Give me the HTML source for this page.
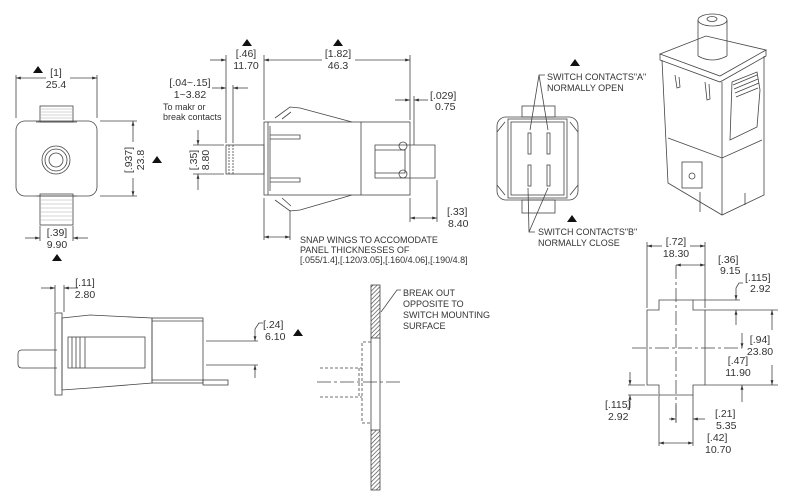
<!DOCTYPE html>
<html><head><meta charset="utf-8"><style>
html,body{margin:0;padding:0;background:#fff}
svg{display:block}
text{font-family:"Liberation Sans",sans-serif;font-size:10.5px;fill:#333}
.s{font-size:9px}
</style></head><body>
<svg width="800" height="497" viewBox="0 0 800 497" xmlns="http://www.w3.org/2000/svg">
<defs>
<marker id="a" viewBox="0 0 10 10" refX="10" refY="5" markerWidth="6" markerHeight="6" orient="auto-start-reverse"><path d="M0,2L10,5L0,8z" fill="#333"/></marker>
<pattern id="h" width="3" height="3" patternUnits="userSpaceOnUse" patternTransform="rotate(45)"><line x1="0" y1="0" x2="0" y2="3" stroke="#444" stroke-width="1.3"/></pattern>
</defs>
<g fill="none" stroke="#444" stroke-width="0.8">
<!-- front view -->
<rect x="16" y="121" width="81" height="75" rx="9"/>
<rect x="40" y="106" width="33" height="16"/><line x1="36" y1="122" x2="77" y2="122"/>
<path d="M40,109h33M40,112h33M40,115h33M40,118h33" stroke="#aaa" stroke-width="0.5"/>
<rect x="40" y="194" width="33" height="31"/><line x1="36" y1="196" x2="77" y2="196"/>
<path d="M40,200h33M40,204h33M40,208h33M40,212h33M40,216h33M40,220h33" stroke="#aaa" stroke-width="0.5"/>
<circle cx="56" cy="160" r="14"/><circle cx="56" cy="160" r="11"/><circle cx="56" cy="160" r="7"/>
<line x1="16" y1="75" x2="16" y2="118"/><line x1="97" y1="75" x2="97" y2="118"/>
<line x1="16" y1="78" x2="46" y2="78" marker-start="url(#a)"/><line x1="70" y1="78" x2="97" y2="78" marker-end="url(#a)"/>
<line x1="100" y1="121" x2="137" y2="121"/><line x1="100" y1="196" x2="137" y2="196"/>
<line x1="133" y1="121" x2="133" y2="142" marker-start="url(#a)"/><line x1="133" y1="178" x2="133" y2="196" marker-end="url(#a)"/>
<line x1="40" y1="226" x2="40" y2="241"/><line x1="73" y1="226" x2="73" y2="241"/>
<line x1="25" y1="238" x2="40" y2="238" marker-end="url(#a)"/><line x1="88" y1="238" x2="73" y2="238" marker-end="url(#a)"/>
<!-- side view -->
<rect x="264" y="122" width="146" height="73"/><line x1="361" y1="122" x2="361" y2="195"/>
<line x1="268" y1="122" x2="268" y2="195"/><line x1="270" y1="126" x2="270" y2="191"/>
<rect x="226" y="145" width="38" height="29"/><line x1="229" y1="145" x2="229" y2="174" stroke-dasharray="2,1"/><line x1="233" y1="145" x2="233" y2="174" stroke-dasharray="2,1"/>
<path d="M270,135h30v4h-30M270,178h30v4h-30"/>
<path d="M275,118L290,107L300,108L352,122M282,119L291,112M275,200L290,211L300,210L352,195M282,198L291,206"/>
<path d="M375,145h60v33h-60z M375,150h30v23h-30"/>
<circle cx="403" cy="146" r="4"/><circle cx="403" cy="174" r="4"/>
<line x1="210" y1="60" x2="226" y2="60" marker-end="url(#a)"/><line x1="226" y1="55" x2="226" y2="143"/>
<line x1="264" y1="55" x2="264" y2="120"/><line x1="410" y1="55" x2="410" y2="120"/>
<line x1="264" y1="60" x2="322" y2="60" marker-start="url(#a)"/><line x1="355" y1="60" x2="410" y2="60" marker-end="url(#a)"/>
<line x1="212" y1="88" x2="226" y2="88" marker-end="url(#a)"/><line x1="248" y1="88" x2="233" y2="88" marker-end="url(#a)"/><line x1="233" y1="85" x2="233" y2="143"/>
<line x1="395" y1="100" x2="410" y2="100" marker-end="url(#a)"/><line x1="428" y1="100" x2="414" y2="100" marker-end="url(#a)"/><line x1="414" y1="96" x2="414" y2="145"/>
<line x1="193" y1="145" x2="224" y2="145"/><line x1="193" y1="174" x2="224" y2="174"/>
<line x1="198" y1="130" x2="198" y2="145" marker-end="url(#a)"/><line x1="198" y1="190" x2="198" y2="174" marker-end="url(#a)"/>
<line x1="410" y1="198" x2="410" y2="222"/><line x1="437" y1="180" x2="437" y2="222"/>
<line x1="410" y1="218" x2="437" y2="218" marker-start="url(#a)" marker-end="url(#a)"/>
<line x1="264" y1="198" x2="264" y2="240"/><line x1="290" y1="210" x2="290" y2="240"/>
<line x1="264" y1="237" x2="290" y2="237" marker-start="url(#a)" marker-end="url(#a)"/>
<!-- end view contacts -->
<rect x="497" y="117" width="81" height="83" rx="9"/>
<rect x="508" y="119" width="59" height="79"/><rect x="511" y="122" width="53" height="73"/>
<rect x="522" y="106" width="33" height="11"/><rect x="522" y="200" width="33" height="13"/>
<path d="M505,122l-8,10M505,195l-8,-10M570,122l8,10M570,195l8,-10"/>
<rect x="528" y="133" width="3" height="21"/><rect x="547" y="133" width="3" height="21"/>
<rect x="528" y="165" width="3" height="21"/><rect x="547" y="165" width="3" height="21"/>
<path d="M545,75h-6l-9,55M539,75l9,55M535,232h-6l-1,-44M529,232l19,-44"/>
<!-- isometric -->
<path d="M698,20v36M727,20v36" /><path d="M698,56q14,8 29,0"/>
<ellipse cx="712.5" cy="20" rx="14.5" ry="6"/><ellipse cx="712" cy="19" rx="5" ry="2.5"/>
<path d="M660,54L706,36L766,50L720,76Z"/>
<path d="M660,54v6l60,22l46,-26v-6"/>
<path d="M662,60L668,183L722,215L764,195L764,56"/>
<path d="M722,82V215"/>
<path d="M668,138L722,158L762,140"/>
<path d="M675,75l2,13l3,-1l-1,-10M705,82l2,18l3,-1l-1,-15"/>
<path d="M732,82L757,72L760,90L757,127L730,140z"/>
<path d="M733,85l24,-10M734,89l24,-10M735,93l24,-10M736,97l22,-9"/>
<rect x="682" y="162" width="20" height="26"/><circle cx="692" cy="176" r="3"/>
<path d="M700,212v-20M745,205v-12"/>
<!-- bottom left view -->
<path d="M57,350H22q-4,0 -4,4v10q0,4 4,4h35"/>
<rect x="55" y="313" width="7" height="82"/>
<path d="M62,318L90,315L152,318V383L90,388L62,390z"/>
<rect x="152" y="318" width="51" height="65"/><line x1="152" y1="321" x2="203" y2="321"/><line x1="152" y1="380" x2="203" y2="380"/>
<rect x="203" y="380" width="25" height="5"/>
<rect x="68" y="337" width="77" height="31"/><path d="M72,337v31M76,337v31M80,337v31M85,337v31"/>
<line x1="41" y1="288" x2="55" y2="288" marker-end="url(#a)"/><line x1="78" y1="288" x2="64" y2="288" marker-end="url(#a)"/><line x1="55" y1="285" x2="55" y2="312"/><line x1="64" y1="285" x2="64" y2="312"/>
<line x1="206" y1="341" x2="258" y2="341"/><line x1="206" y1="365" x2="258" y2="365"/>
<path d="M255,329v12" marker-end="url(#a)"/><path d="M255,378v-13" marker-end="url(#a)"/><path d="M255,329l4,-6h4"/>
<!-- panel -->
<rect x="371" y="285" width="9" height="53" fill="url(#h)"/><rect x="371" y="430" width="9" height="60" fill="url(#h)"/>
<line x1="371" y1="338" x2="371" y2="430"/><line x1="380" y1="338" x2="380" y2="430"/>
<path d="M371,342h-9v81h9M320,368h42M320,397h42M359,368v29" stroke-dasharray="3,2"/>
<line x1="317" y1="382" x2="402" y2="382" stroke-dasharray="14,3,3,3"/>
<path d="M401,290h-4l-16,22"/>
<!-- cutout -->
<path d="M647,310h12v-10h34v10h12v75h-12v10h-34v-10h-12z"/>
<line x1="676" y1="265" x2="676" y2="425" stroke-dasharray="14,3,3,3"/>
<line x1="632" y1="348" x2="742" y2="348" stroke-dasharray="14,3,3,3"/>
<line x1="647" y1="242" x2="647" y2="308"/><line x1="705" y1="242" x2="705" y2="308"/>
<line x1="647" y1="246" x2="662" y2="246" marker-start="url(#a)"/><line x1="690" y1="246" x2="705" y2="246" marker-end="url(#a)"/>
<line x1="676" y1="265" x2="705" y2="265" marker-start="url(#a)" marker-end="url(#a)"/>
<line x1="693" y1="300" x2="740" y2="300"/><line x1="705" y1="310" x2="778" y2="310"/><line x1="705" y1="385" x2="778" y2="385"/>
<path d="M736,288v12" marker-end="url(#a)"/><path d="M736,325v-15" marker-end="url(#a)"/><path d="M736,288l3,-5h4"/>
<path d="M772,310v20" marker-start="url(#a)"/><path d="M772,365v20" marker-end="url(#a)"/>
<path d="M742,333v15" marker-end="url(#a)"/><path d="M742,402v-17" marker-end="url(#a)"/>
<line x1="628" y1="385" x2="645" y2="385"/><line x1="628" y1="395" x2="658" y2="395"/>
<path d="M630,372v13" marker-end="url(#a)"/><path d="M630,408v-13" marker-end="url(#a)"/><path d="M630,408h-3"/>
<line x1="659" y1="395" x2="659" y2="446"/><line x1="693" y1="395" x2="693" y2="446"/><line x1="676" y1="405" x2="676" y2="422"/>
<line x1="669" y1="419" x2="676" y2="419" marker-end="url(#a)"/><line x1="705" y1="419" x2="693" y2="419" marker-end="url(#a)"/>
<line x1="659" y1="443" x2="693" y2="443" marker-start="url(#a)" marker-end="url(#a)"/>
</g>
<g fill="#111">
<path d="M33,73l5,-7l5,7z M152,163l5,-7l5,7z M52,261l5,-7l5,7z M242,46l5,-7l5,7z M333,46l5,-7l5,7z M570,66l5,-7l5,7z M567,222l5,-7l5,7z M293,336l5,-7l5,7z"/>
</g>
<text x="56" y="76" text-anchor="middle">[1]</text><text x="56" y="88" text-anchor="middle">25.4</text>
<text transform="translate(133,160) rotate(-90)" text-anchor="middle" dy="-1">[.937]</text>
<text transform="translate(145,160) rotate(-90)" text-anchor="middle" dy="-1">23.8</text>
<text x="57" y="236" text-anchor="middle">[.39]</text><text x="57" y="248" text-anchor="middle">9.90</text>
<text x="246" y="57" text-anchor="middle">[.46]</text><text x="246" y="69" text-anchor="middle">11.70</text>
<text x="338" y="57" text-anchor="middle">[1.82]</text><text x="338" y="69" text-anchor="middle">46.3</text>
<text x="190" y="86" text-anchor="middle">[.04~.15]</text><text x="190" y="98" text-anchor="middle">1~3.82</text>
<text x="163" y="110" class="s">To makr or</text><text x="163" y="120" class="s">break contacts</text>
<text x="430" y="99">[.029]</text><text x="435" y="110">0.75</text>
<text transform="translate(198,160) rotate(-90)" text-anchor="middle" dy="-1">[.35]</text>
<text transform="translate(210,160) rotate(-90)" text-anchor="middle" dy="-1">8.80</text>
<text x="447" y="215">[.33]</text><text x="448" y="227">8.40</text>
<text x="300" y="243" class="s">SNAP WINGS TO ACCOMODATE</text><text x="300" y="253" class="s">PANEL THICKNESSES OF</text><text x="300" y="263" class="s">[.055/1.4],[.120/3.05],[.160/4.06],[.190/4.8]</text>
<text x="547" y="80" class="s">SWITCH CONTACTS"A"</text><text x="547" y="91" class="s">NORMALLY OPEN</text>
<text x="538" y="235" class="s">SWITCH CONTACTS"B"</text><text x="538" y="246" class="s">NORMALLY CLOSE</text>
<text x="85" y="286" text-anchor="middle">[.11]</text><text x="85" y="298" text-anchor="middle">2.80</text>
<text x="263" y="328">[.24]</text><text x="265" y="340">6.10</text>
<text x="403" y="296" class="s">BREAK OUT</text><text x="403" y="307" class="s">OPPOSITE TO</text><text x="403" y="318" class="s">SWITCH MOUNTING</text><text x="403" y="329" class="s">SURFACE</text>
<text x="676" y="245" text-anchor="middle">[.72]</text><text x="676" y="257" text-anchor="middle">18.30</text>
<text x="718" y="263">[.36]</text><text x="720" y="274">9.15</text>
<text x="745" y="281">[.115]</text><text x="750" y="292">2.92</text>
<text x="760" y="343" text-anchor="middle">[.94]</text><text x="760" y="355" text-anchor="middle">23.80</text>
<text x="738" y="364" text-anchor="middle">[.47]</text><text x="738" y="376" text-anchor="middle">11.90</text>
<text x="605" y="408">[.115]</text><text x="608" y="420">2.92</text>
<text x="715" y="417">[.21]</text><text x="716" y="429">5.35</text>
<text x="707" y="441">[.42]</text><text x="705" y="453">10.70</text>
</svg>
</body></html>
